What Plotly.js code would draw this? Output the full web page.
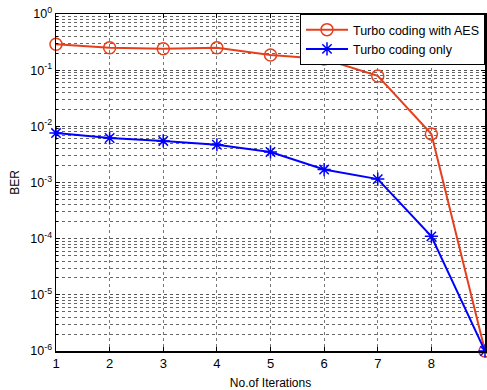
<!DOCTYPE html>
<html><head><meta charset="utf-8">
<script src="https://cdn.plot.ly/plotly-3.0.1.min.js"></script>
<style>html,body{margin:0;padding:0;background:#fff}#c{width:487px;height:390px}</style>
</head><body><div id="c"></div>
<script>
const iterations = [1,2,3,4,5,6,7,8,9];
const berAES = [0.29,0.25,0.24,0.25,0.186,0.158,0.079,0.0073,1e-6];
const berOnly = [0.0076,0.0062,0.0055,0.0047,0.0035,0.0017,0.00115,0.00011,1e-6];
const yTickVals = [1,0.1,0.01,0.001,1e-4,1e-5,1e-6];
const yTickText = ['10<sup>0</sup>','10<sup>-1</sup>','10<sup>-2</sup>','10<sup>-3</sup>','10<sup>-4</sup>','10<sup>-5</sup>','10<sup>-6</sup>'];
const names = ['Turbo coding with AES','Turbo coding only'];

const traces = [
 {x: iterations, y: berAES, name: names[0], mode:'lines+markers', type:'scatter',
  line:{color:'#e5401d', width:2}, marker:{symbol:'circle-open', size:12, color:'#e5401d', line:{width:1.5, color:'#e5401d'}}, cliponaxis:false},
 {x: iterations, y: berOnly, name: names[1], mode:'lines+markers', type:'scatter',
  line:{color:'#0000ff', width:2}, marker:{symbol:'asterisk-open', size:11, color:'#0000ff', line:{width:1.5, color:'#0000ff'}}, cliponaxis:false}
];
const layout = {
 width:487, height:390,
 margin:{l:56, r:2, t:14, b:39},
 paper_bgcolor:'#fff', plot_bgcolor:'#fff',
 font:{family:'Liberation Sans, Arial, sans-serif', size:12, color:'#000'},
 showlegend:true,
 legend:{x:1, xanchor:'right', y:1, yanchor:'top', bgcolor:'#fff', bordercolor:'#000', borderwidth:1,
   font:{size:12.5}, tracegroupgap:0, itemwidth:42},
 xaxis:{range:[1,9], tickvals:iterations, ticks:'inside', ticklen:4, tickcolor:'#000',
   showline:true, linecolor:'#000', linewidth:1.5, mirror:'ticks', showgrid:true, gridcolor:'#777', griddash:'dot', gridwidth:1,
   zeroline:false, title:{text:'No.of Iterations', font:{size:12}, standoff:10}, tickfont:{size:13}},
 yaxis:{type:'log', range:[-6,0], tickvals:yTickVals, ticktext:yTickText, ticks:'inside', ticklen:4, tickcolor:'#000',
   showline:true, linecolor:'#000', linewidth:1.5, mirror:'ticks', showgrid:true, gridcolor:'#555', griddash:'dot', gridwidth:1,
   minor:{dtick:'D1', showgrid:true, gridcolor:'#666', griddash:'dot', ticks:'inside', ticklen:2, tickcolor:'#000'},
   zeroline:false, title:{text:'BER', font:{size:12}, standoff:8}, tickfont:{size:12.5}}
};
Plotly.newPlot('c', traces, layout, {displayModeBar:false, staticPlot:true});
</script></body></html>
